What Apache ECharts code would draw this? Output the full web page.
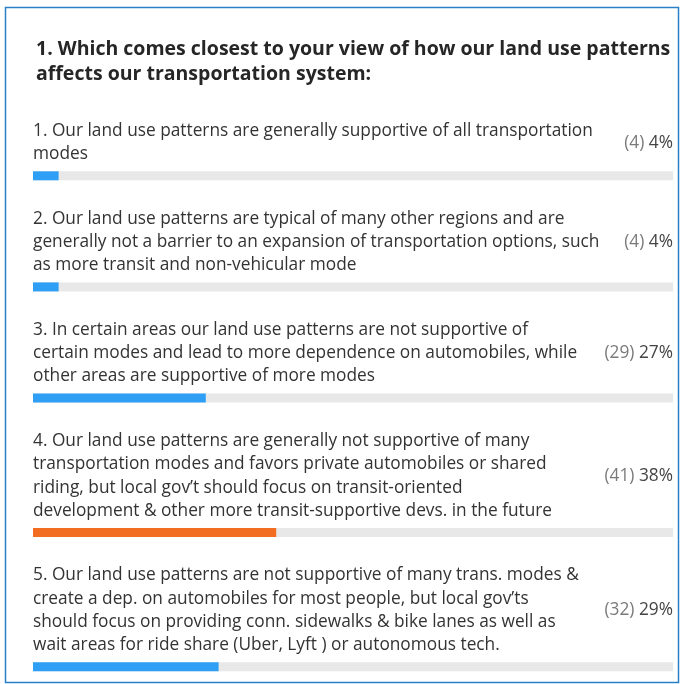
<!DOCTYPE html>
<html>
<head>
<meta charset="utf-8">
<script src="https://cdn.jsdelivr.net/npm/echarts@6/dist/echarts.min.js"></script>
<style>
	html, body { margin: 0; padding: 0; background: #fff; }
	#chart { width: 686px; height: 684px; }
</style>
</head>
<body>
<div id="chart"></div>
<script>
// 题目
var questionLines = [
	'1. Which comes closest to your view of how our land use patterns',
	'affects our transportation system:'
];
// 选项（按原图换行）
var answerLines = [
	['1. Our land use patterns are generally supportive of all transportation',
	 'modes'],
	['2. Our land use patterns are typical of many other regions and are',
	 'generally not a barrier to an expansion of transportation options, such',
	 'as more transit and non-vehicular mode'],
	['3. In certain areas our land use patterns are not supportive of',
	 'certain modes and lead to more dependence on automobiles, while',
	 'other areas are supportive of more modes'],
	['4. Our land use patterns are generally not supportive of many',
	 'transportation modes and favors private automobiles or shared',
	 'riding, but local gov\u2019t should focus on transit-oriented',
	 'development & other more transit-supportive devs. in the future'],
	['5. Our land use patterns are not supportive of many trans. modes &',
	 'create a dep. on automobiles for most people, but local gov\u2019ts',
	 'should focus on providing conn. sidewalks & bike lanes as well as',
	 'wait areas for ride share (Uber, Lyft ) or autonomous tech.']
];
var counts = [4, 4, 29, 41, 32];
var percents = [4, 4, 27, 38, 29];

// ============================================== 布局 ======================================================
var left = 33, barW = 640, barH = 9, lineH = 23.3;
var font = '"Open Sans", sans-serif';
var bodyFont = '17.3px ' + font;
var blue = '#2e9ff5', orange = '#f26c22';

var maxIdx = percents.indexOf(Math.max.apply(null, percents));

var grids = [], xAxes = [], yAxes = [], series = [];
var graphics = [{
	type: 'rect',
	shape: { x: 5.5, y: 7.5, width: 673, height: 675 },
	style: { fill: '#fff', stroke: '#2a7fc9', lineWidth: 1.5 },
	z: -10
}];

questionLines.forEach(function(t, k) {
	graphics.push({
		type: 'text',
		style: {
			text: t, x: 36, y: 49.5 + k * 25,
			font: 'bold 19.5px ' + font, fill: '#262626', verticalAlign: 'middle'
		}
	});
});

var y = 131;
answerLines.forEach(function(lines, i) {
	lines.forEach(function(t, k) {
		graphics.push({
			type: 'text',
			style: {
				text: t, x: left, y: y + k * lineH,
				font: bodyFont, fill: '#333', verticalAlign: 'middle'
			}
		});
	});
	// 数量 + 百分比
	graphics.push({
		type: 'text',
		style: {
			text: '{c|(' + counts[i] + ')} {p|' + percents[i] + '%}',
			x: left + barW, y: y + (lines.length - 1) * lineH / 2,
			align: 'right', verticalAlign: 'middle',
			font: bodyFont,
			rich: {
				c: { fill: '#7a7a7a', font: bodyFont },
				p: { fill: '#444', font: bodyFont }
			}
		}
	});
	var barTop = y + (lines.length - 1) * lineH + 17;
	grids.push({ left: left, top: barTop, width: barW, height: barH });
	xAxes.push({ type: 'value', gridIndex: i, min: 0, max: 100, show: false });
	yAxes.push({ type: 'category', gridIndex: i, data: [i], show: false });
	series.push({
		type: 'bar',
		xAxisIndex: i,
		yAxisIndex: i,
		barWidth: barH,
		silent: true,
		showBackground: true,
		backgroundStyle: { color: '#e8e8e8' },
		itemStyle: { color: i === maxIdx ? orange : blue },
		data: [percents[i]]
	});
	y = barTop + barH + 38.5;
});

var myChart = echarts.init(document.getElementById('chart'));
myChart.setOption({
	animation: false,
	grid: grids,
	xAxis: xAxes,
	yAxis: yAxes,
	series: series,
	graphic: graphics
});
</script>
</body>
</html>
